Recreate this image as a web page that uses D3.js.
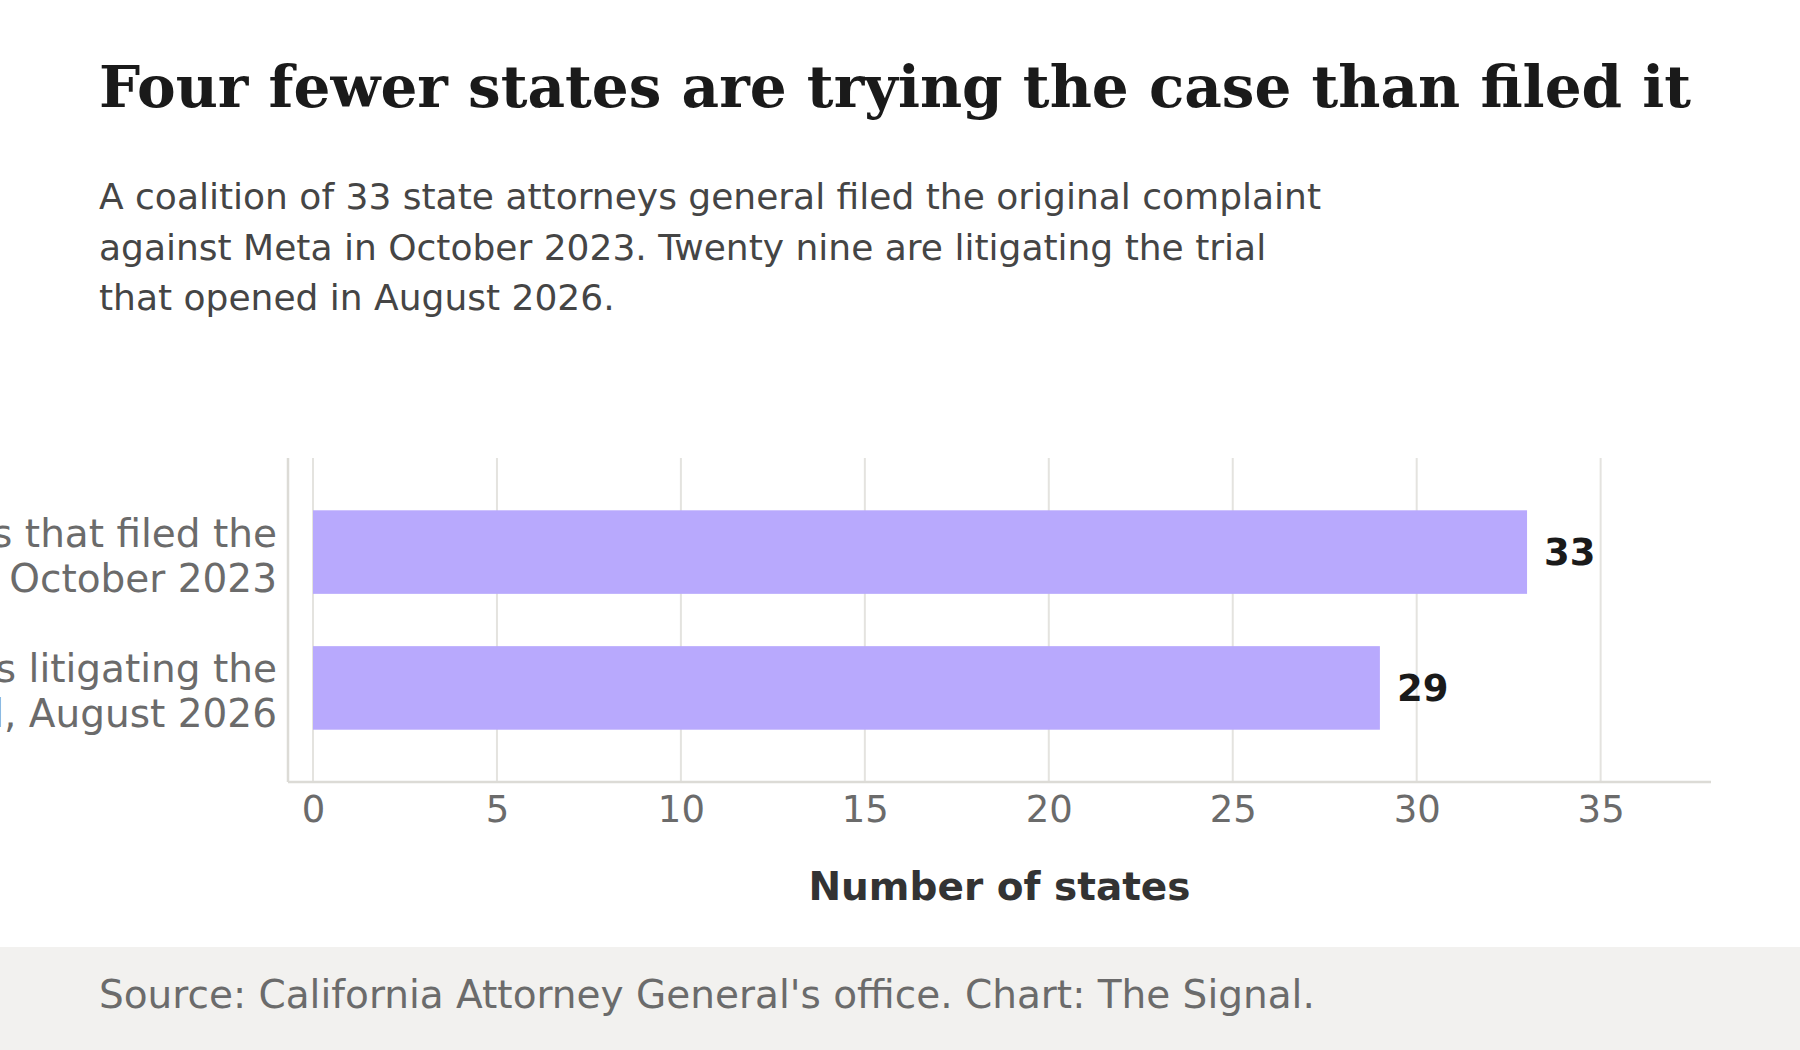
<!DOCTYPE html>
<html>
<head>
<meta charset="utf-8">
<script src="https://cdn.jsdelivr.net/npm/d3@7"></script>
<style>
  body { margin: 0; background: #fff; }
  svg { display: block; }
</style>
</head>
<body>
<svg id="drawing_region"></svg>
<script>
// data
const categories = ["filed", "trial"];
const categoryLines = [
    ["States that filed the", "complaint, October 2023"],
    ["States litigating the", "trial, August 2026"]
];
const values = [33, 29];
const xTicks = [0, 5, 10, 15, 20, 25, 30, 35];

const titleText = "Four fewer states are trying the case than filed it";
const subtitleLines = [
    "A coalition of 33 state attorneys general filed the original complaint",
    "against Meta in October 2023. Twenty nine are litigating the trial",
    "that opened in August 2026."
];
const xTitle = "Number of states";
const sourceText = "Source: California Attorney General's office. Chart: The Signal.";

var config = {
    parent: '#drawing_region',
    width: 1800,
    height: 1050,
    plot: {left: 313, right: 1711, top: 458, bottom: 782, axisLeft: 288},
    xMax: 38
};

class BarChart {

    constructor( config ) {
        this.config = config;
        this.init();
    }

    init() {
        let self = this;
        const c = self.config;

        self.svg = d3.select( c.parent )
            .attr('width', c.width)
            .attr('height', c.height)
            .style('font-family', "'DejaVu Sans', sans-serif");

        self.x = d3.scaleLinear()
            .domain([0, c.xMax])
            .range([c.plot.left, c.plot.right]);

        self.y = d3.scaleBand()
            .domain(categories)
            .range([c.plot.top, c.plot.bottom])
            .padding(0.385);

        self.render();
    }

    render() {
        let self = this;
        const c = self.config;
        const svg = self.svg;

        // title + subtitle
        svg.append('text')
            .attr('x', 99).attr('y', 107)
            .attr('font-family', "'DejaVu Serif', serif")
            .attr('font-weight', 'bold')
            .attr('font-size', 58)
            .attr('fill', '#1a1a1a')
            .text(titleText);

        svg.append('g').selectAll('text')
            .data(subtitleLines)
            .join('text')
            .attr('x', 99)
            .attr('y', (d, i) => 209 + i * 50.5)
            .attr('font-size', 36)
            .attr('fill', '#454545')
            .text(d => d);

        // gridlines
        svg.append('g').selectAll('line')
            .data(xTicks)
            .join('line')
            .attr('x1', d => self.x(d)).attr('x2', d => self.x(d))
            .attr('y1', c.plot.top).attr('y2', c.plot.bottom)
            .attr('stroke', '#e4e3df')
            .attr('stroke-width', 2);

        // axis lines
        svg.append('line')
            .attr('x1', c.plot.axisLeft).attr('x2', c.plot.axisLeft)
            .attr('y1', c.plot.top).attr('y2', c.plot.bottom)
            .attr('stroke', '#dcdbd6').attr('stroke-width', 2.5);
        svg.append('line')
            .attr('x1', c.plot.axisLeft).attr('x2', c.plot.right)
            .attr('y1', c.plot.bottom).attr('y2', c.plot.bottom)
            .attr('stroke', '#dcdbd6').attr('stroke-width', 2.5);

        // bars
        svg.append('g').selectAll('rect')
            .data(values)
            .join('rect')
            .attr('x', self.x(0))
            .attr('y', (d, i) => self.y(categories[i]))
            .attr('width', d => self.x(d) - self.x(0))
            .attr('height', self.y.bandwidth())
            .attr('fill', '#b8a9fd');

        // value labels
        svg.append('g').selectAll('text')
            .data(values)
            .join('text')
            .attr('x', d => self.x(d) + 17)
            .attr('y', (d, i) => self.y(categories[i]) + self.y.bandwidth() / 2)
            .attr('dy', '0.36em')
            .attr('font-size', 37)
            .attr('font-weight', 'bold')
            .attr('fill', '#1a1a1a')
            .text(d => d);

        // x axis tick labels
        const xAxis = d3.axisBottom(self.x)
            .tickValues(xTicks)
            .tickSize(0)
            .tickPadding(14);
        const gx = svg.append('g')
            .attr('transform', `translate(0, ${c.plot.bottom})`)
            .call(xAxis);
        gx.select('.domain').remove();
        gx.selectAll('text')
            .attr('font-family', "'DejaVu Sans', sans-serif")
            .attr('font-size', 37)
            .attr('fill', '#6b6b6b');

        // category labels
        const gy = svg.append('g').selectAll('text')
            .data(categories)
            .join('text')
            .attr('text-anchor', 'end')
            .attr('font-size', 39)
            .attr('fill', '#6b6b6b');
        gy.each(function(d, i) {
            const mid = self.y(d) + self.y.bandwidth() / 2 + 3;
            d3.select(this).selectAll('tspan')
                .data(categoryLines[i])
                .join('tspan')
                .attr('x', 277)
                .attr('y', (t, j) => mid + (j - 0.5) * 45)
                .attr('dy', '0.36em')
                .text(t => t);
        });

        // x title
        svg.append('text')
            .attr('x', (c.plot.axisLeft + c.plot.right) / 2)
            .attr('y', 900)
            .attr('text-anchor', 'middle')
            .attr('font-size', 39)
            .attr('font-weight', 'bold')
            .attr('fill', '#333')
            .text(xTitle);

        // footer
        svg.append('rect')
            .attr('x', 0).attr('y', 947)
            .attr('width', c.width).attr('height', c.height - 947)
            .attr('fill', '#f2f1ef');
        svg.append('text')
            .attr('x', 99).attr('y', 1008)
            .attr('font-size', 39)
            .attr('fill', '#6b6b6b')
            .text(sourceText);
    }
}

const chart = new BarChart( config );
</script>
</body>
</html>
